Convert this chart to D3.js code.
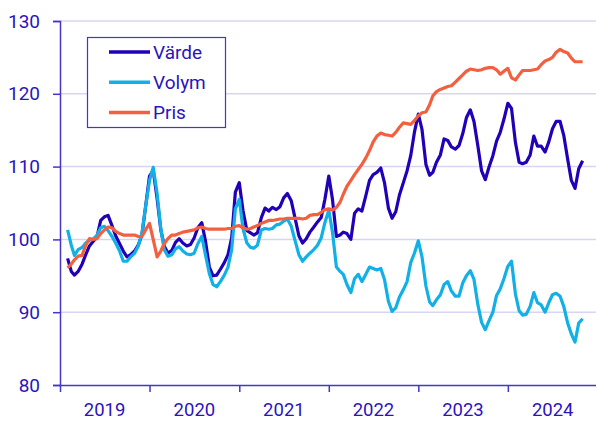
<!DOCTYPE html>
<html>
<head>
<meta charset="utf-8">
<script src="https://cdn.jsdelivr.net/npm/d3@7"></script>
<style>
  body { margin: 0; background: #fff; }
  svg { display: block; font-family: Roboto, "Noto Sans", sans-serif; }
</style>
</head>
<body>
<div id="chart"></div>
<script>
// half-month observations, from Feb 2019 to Nov 2024
const varde = [
  97.4, 95.6, 95.1, 95.6, 96.6, 97.9, 99.1, 99.7, 100.4, 102.6,
  103.1, 103.3, 101.9, 100.5, 99.4, 98.4, 97.6, 97.9, 98.4, 99.2,
  100.6, 104.5, 108.7, 109.5, 105.6, 101.3, 99.1, 98.1, 98.5, 99.6,
  100.1, 99.5, 99.1, 99.3, 100.2, 101.6, 102.3, 99.8, 96.2, 95.0,
  95.1, 95.9, 96.8, 97.9, 100.2, 106.5, 107.8, 104.0, 101.2, 100.9,
  100.6, 100.9, 103.0, 104.3, 103.9, 104.4, 104.1, 104.5, 105.7, 106.3,
  105.3, 103.0, 100.5, 99.5, 100.1, 101.0, 101.7, 102.4, 103.0, 105.5,
  108.7, 105.5, 100.4, 100.6, 101.0, 100.8, 100.0, 103.6, 104.2, 103.9,
  106.0, 108.1, 108.9, 109.2, 109.8, 107.8, 104.3, 102.9, 103.8, 106.1,
  107.8, 109.4, 111.5, 114.7, 117.2, 115.1, 110.3, 108.8, 109.2, 110.6,
  111.6, 113.8, 113.6, 112.7, 112.4, 112.9, 114.5, 116.7, 117.8, 116.2,
  112.8, 109.4, 108.2, 109.9, 111.5, 113.5, 114.7, 116.5, 118.7, 118.0,
  113.3, 110.6, 110.4, 110.6, 111.6, 114.2, 112.8, 112.8, 112.0, 113.4,
  115.2, 116.2, 116.2, 114.3, 111.0, 108.1, 107.0, 109.7, 110.8
];
const volym = [
  101.3, 99.2, 97.8, 98.6, 98.9, 99.5, 99.9, 100.0, 100.6, 101.6,
  101.8, 101.2, 100.4, 99.5, 98.4, 97.0, 97.0, 97.6, 98.1, 99.1,
  100.8, 104.5, 108.1, 109.9, 106.3, 101.5, 98.6, 97.7, 97.9, 98.7,
  99.0, 98.4, 98.0, 97.9, 98.1, 99.4, 100.4, 97.9, 95.3, 93.8,
  93.5, 94.2, 95.1, 96.2, 98.6, 104.2, 105.5, 101.5, 99.5, 98.9,
  98.8, 99.2, 101.3, 101.5, 101.4, 101.5, 102.0, 102.1, 102.5, 102.8,
  101.8, 99.9, 97.9, 97.0, 97.6, 98.1, 98.6, 99.2, 100.2, 102.3,
  104.0, 101.0, 96.2, 95.6, 95.2, 93.8, 92.7, 94.6, 95.2, 94.2,
  95.2, 96.2, 96.0, 95.8, 96.0, 94.5, 91.5, 90.1, 90.6, 92.1,
  93.1, 94.2, 96.8, 98.1, 99.8, 97.6, 93.6, 91.4, 90.9, 91.7,
  92.4, 93.8, 94.2, 92.9, 92.2, 92.2, 94.0, 95.0, 95.7, 94.5,
  91.0, 88.6, 87.6, 88.8, 90.0, 92.3, 93.2, 94.6, 96.3, 97.0,
  92.5, 90.2, 89.6, 89.7, 90.8, 92.7, 91.3, 91.0, 90.0, 91.3,
  92.4, 92.6, 92.2, 90.8, 88.5, 87.0, 85.9, 88.5, 89.1
];
const pris = [
  96.1, 96.6, 97.2, 97.7, 97.8, 99.2, 100.1, 100.0, 100.1, 100.8,
  101.3, 101.7, 101.6, 101.1, 100.8, 100.6, 100.6, 100.6, 100.6, 100.4,
  100.4, 101.3, 102.2, 100.0, 97.6, 98.4, 99.4, 100.1, 100.6, 100.6,
  100.8, 101.0, 101.1, 101.2, 101.3, 101.6, 101.7, 101.5, 101.4, 101.4,
  101.4, 101.4, 101.4, 101.5, 101.5, 101.8, 101.9, 101.6, 101.4, 101.5,
  101.7, 101.9, 102.2, 102.4, 102.6, 102.6, 102.7, 102.8, 102.8, 102.9,
  102.9, 102.9, 102.9, 102.8, 102.9, 103.3, 103.4, 103.4, 103.7, 104.1,
  104.2, 104.0, 104.4, 105.1, 106.2, 107.3, 108.1, 108.9, 109.6, 110.3,
  111.2, 112.2, 113.4, 114.2, 114.6, 114.4, 114.3, 114.2, 114.7, 115.4,
  116.0, 115.9, 115.8, 116.3, 117.0, 117.4, 117.5, 118.5, 119.7, 120.3,
  120.6, 120.8, 121.0, 121.1, 121.6, 122.1, 122.6, 123.1, 123.4, 123.3,
  123.2, 123.3, 123.5, 123.6, 123.6, 123.3, 122.7, 123.1, 123.5, 122.2,
  121.9, 122.6, 123.2, 123.2, 123.2, 123.3, 123.4, 124.0, 124.5, 124.7,
  125.0, 125.7, 126.1, 125.8, 125.6, 124.9, 124.4, 124.4, 124.4
];
const seriesNames = ["Värde", "Volym", "Pris"];
const seriesColors = ["#2100b8", "#12b0e6", "#f2603f"];
const yTicks = [80, 90, 100, 110, 120, 130];
const years = [2019, 2020, 2021, 2022, 2023, 2024];

// dates: 1st and 16th of each month starting Feb 2019
const dates = varde.map((d, i) => new Date(2019, 1 + Math.floor(i / 2), i % 2 ? 16 : 1));

const width = 596, height = 421;
const margin = {top: 21, left: 60, bottom: 36};
const textColor = "#2b14bd", axisColor = "#4535c9";

const svg = d3.select("#chart").append("svg")
  .attr("width", width)
  .attr("height", height);

const x = d3.scaleTime()
  .domain([new Date(2019, 0, 1), new Date(2025, 0, 1)])
  .range([margin.left, margin.left + 6 * 89.6]);

const y = d3.scaleLinear()
  .domain([80, 130])
  .range([height - margin.bottom, margin.top]);

// grid lines
svg.append("g")
  .selectAll("line")
  .data(yTicks.slice(1))
  .enter().append("line")
  .attr("x1", margin.left).attr("x2", width)
  .attr("y1", d => y(d)).attr("y2", d => y(d))
  .attr("stroke", "#d6d6f3")
  .attr("stroke-width", 1.5);

// y axis
const yAxis = svg.append("g")
  .attr("transform", `translate(${margin.left},0)`)
  .call(d3.axisLeft(y).tickValues(yTicks).tickSize(7).tickPadding(13));
yAxis.select(".domain").attr("stroke", axisColor).attr("stroke-width", 1.5);
yAxis.selectAll(".tick line").attr("stroke", axisColor).attr("stroke-width", 1.5);
yAxis.selectAll("text")
  .attr("fill", textColor)
  .style("font-size", "19px")
  .style("font-family", "Roboto");

// x axis: ticks at year boundaries, labels centred in the year
const xAxis = svg.append("g")
  .attr("transform", `translate(0,${y(80)})`)
  .call(d3.axisBottom(x)
    .ticks(d3.timeYear.every(1))
    .tickSize(7)
    .tickSizeOuter(0)
    .tickFormat(""));
xAxis.select(".domain").attr("stroke", axisColor).attr("stroke-width", 1.5);
xAxis.selectAll(".tick line").attr("stroke", axisColor).attr("stroke-width", 1.5);

svg.append("g")
  .selectAll("text")
  .data(years)
  .enter().append("text")
  .attr("x", d => x(new Date(d, 6, 2)))
  .attr("y", 416)
  .attr("text-anchor", "middle")
  .attr("fill", textColor)
  .style("font-size", "18.5px")
  .text(d => d);

// lines
const line = d3.line()
  .x((d, i) => x(dates[i]))
  .y(d => y(d));

[varde, volym, pris].forEach((s, k) => {
  svg.append("path")
    .datum(s)
    .attr("fill", "none")
    .attr("stroke", seriesColors[k])
    .attr("stroke-width", 3.2)
    .attr("stroke-linejoin", "round")
    .attr("d", line);
});

// legend
const legend = svg.append("g");
legend.append("rect")
  .attr("x", 87.5).attr("y", 37.5)
  .attr("width", 138).attr("height", 90)
  .attr("fill", "#fff")
  .attr("stroke", axisColor)
  .attr("stroke-width", 1.2);

const items = legend.selectAll("g.item")
  .data(seriesNames)
  .enter().append("g")
  .attr("class", "item")
  .attr("transform", (d, i) => `translate(0,${52 + i * 30.3})`);
items.append("line")
  .attr("x1", 109).attr("x2", 150)
  .attr("stroke", (d, i) => seriesColors[i])
  .attr("stroke-width", 3.5);
items.append("text")
  .attr("x", 153)
  .attr("dy", "0.36em")
  .attr("fill", textColor)
  .style("font-size", "19px")
  .text(d => d);
</script>
</body>
</html>
